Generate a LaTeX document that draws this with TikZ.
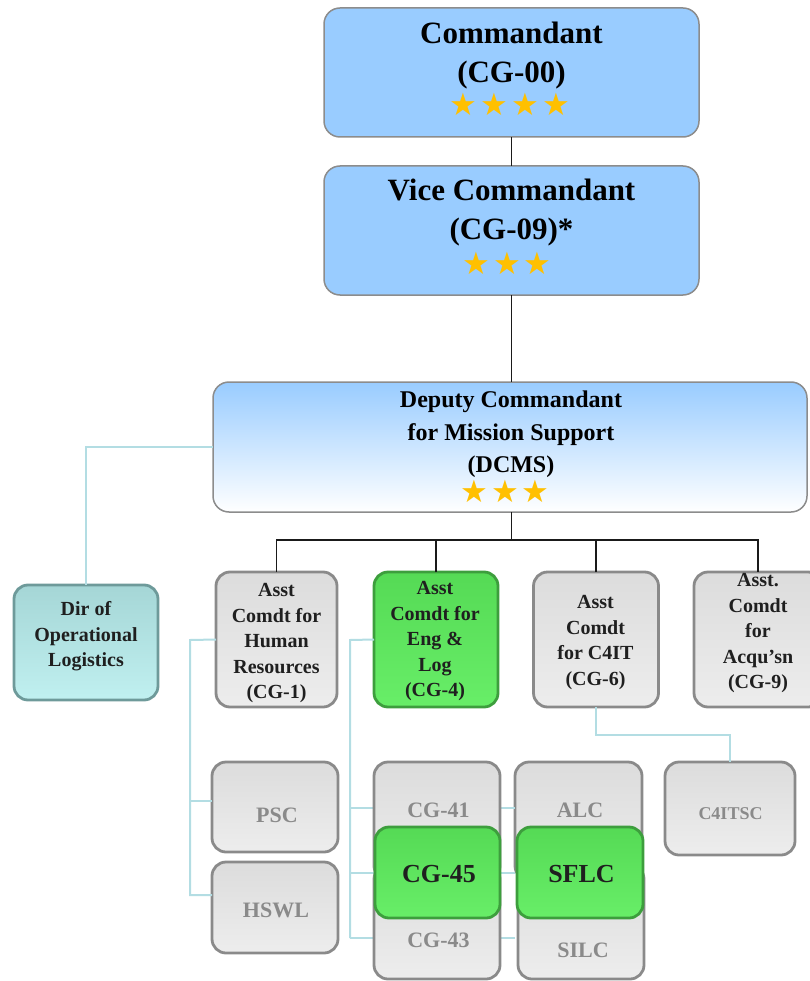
\documentclass[tikz,border=0pt]{standalone}
\usepackage{fontspec}
\setmainfont{Liberation Serif}
\newfontfamily\starfont{DejaVu Sans}
\usetikzlibrary{calc}
\definecolor{topblue}{HTML}{99CCFF}
\definecolor{boxedge}{HTML}{8C8C8C}
\definecolor{gold}{HTML}{FFC000}
\definecolor{grayA}{HTML}{DCDCDC}
\definecolor{grayB}{HTML}{EDEDED}
\definecolor{grayedge}{HTML}{8A8A8A}
\definecolor{grayTxt}{HTML}{8A8A8A}
\definecolor{greenA}{HTML}{55DA55}
\definecolor{greenB}{HTML}{68EE68}
\definecolor{greenedge}{HTML}{3D9E3D}
\definecolor{tealA}{HTML}{A5D6D6}
\definecolor{tealB}{HTML}{C0F0F0}
\definecolor{tealedge}{HTML}{6E9A9A}
\definecolor{sideblue}{HTML}{B3DDE3}
\definecolor{orgdark}{HTML}{1A1A1A}
\begin{document}
\begin{tikzpicture}[x=1pt,y=-1pt,
  boxbase/.style={inner sep=0pt, outer sep=0pt, rectangle},
  topbox/.style={boxbase, draw=boxedge, line width=1.5pt, rounded corners=16pt, fill=topblue},
  dcmsbox/.style={boxbase, draw=boxedge, line width=1.5pt, rounded corners=16pt, top color=topblue, bottom color=white},
  graybox/.style={boxbase, draw=grayedge, line width=2.8pt, rounded corners=14pt, top color=grayA, bottom color=grayB},
  greenbox/.style={boxbase, draw=greenedge, line width=2.8pt, rounded corners=14pt, top color=greenA, bottom color=greenB},
  tealbox/.style={boxbase, draw=tealedge, line width=2.8pt, rounded corners=14pt, top color=tealA, bottom color=tealB},
  orgline/.style={draw=orgdark, line width=1.6pt},
  sideline/.style={draw=sideblue, line width=2pt},
  bigtxt/.style={inner sep=0pt, align=center, anchor=north, font=\fontsize{31}{39}\selectfont\bfseries},
  midtxt/.style={inner sep=0pt, align=center, anchor=north, font=\fontsize{24}{32.5}\selectfont\bfseries},
  smalltxt/.style={inner sep=0pt, align=center, anchor=north, text=black!88, font=\fontsize{20}{25.5}\selectfont\bfseries},
  subtxt/.style={inner sep=0pt, anchor=base, text=grayTxt, font=\fontsize{22}{26}\selectfont\bfseries},
  hotxt/.style={inner sep=0pt, anchor=base, text=black!88, font=\fontsize{26}{30}\selectfont\bfseries},
  startxt/.style={inner sep=0pt, text=gold, font=\starfont\fontsize{31}{31}\selectfont}
]
\useasboundingbox (0,0) rectangle (809,981);

% ---------- helper coordinates ----------
\coordinate (hrx) at (190,640);
\coordinate (engx) at (350,640);
\coordinate (e1) at (350,808);
\coordinate (e2) at (350,873);
\coordinate (e3) at (350,938);
\coordinate (bar) at (512,540);

% ---------- top boxes ----------
\node[topbox, minimum width=375, minimum height=129] (cmd) at (511.5,72.5) {};
\node[topbox, minimum width=375, minimum height=129] (vice) at (511.5,230.5) {};
\node[dcmsbox, minimum width=594, minimum height=130] (dcms) at (510,447) {};

% ---------- second row ----------
\node[tealbox, minimum width=144, minimum height=115] (dir) at (86,642.5) {};
\node[graybox, minimum width=121, minimum height=135] (hr) at (276.5,639.5) {};
\node[greenbox, minimum width=124, minimum height=135] (eng) at (436,639.5) {};
\node[graybox, minimum width=125, minimum height=135] (c4it) at (596,639.5) {};
\node[graybox, minimum width=128, minimum height=135] (acq) at (758,639.5) {};

% connectors
\draw[orgline] (cmd.south) -- (vice.north);
\draw[orgline] (vice.south) -- (vice.south |- dcms.north);
\draw[orgline] (vice.south |- dcms.south) -- (vice.south |- bar);
\draw[orgline] (hr.north) |- (bar) -| (acq.north);
\draw[orgline] (eng.north) -- (eng.north |- bar);
\draw[orgline] (c4it.north) -- (c4it.north |- bar);

\draw[sideline] (dir.north) |- (dcms.west);

% ---------- third row ----------
\node[graybox, minimum width=126, minimum height=90] (psc) at (275,807) {};
\node[graybox, minimum width=126, minimum height=91] (hswl) at (275,907.5) {};
\node[graybox, minimum width=130, minimum height=93] (c4itsc) at (730,808.5) {};

\draw[sideline] (hr.west) -- (hrx) |- ([yshift=12.5pt]hswl.west);
\draw[sideline] (hrx |- 0,801) -- ([yshift=6pt]psc.west);
\draw[sideline] (c4it.south) -- ++(0,28) -| (c4itsc.north);

\node[graybox, minimum width=127, minimum height=118] (alc) at (578.5,821) {};
\node[graybox, minimum width=126, minimum height=114] (silc) at (581,922) {};
\node[greenbox, minimum width=126, minimum height=91] (sflc) at (580,872.5) {};

\draw[sideline] (eng.west) -- (engx) -- (e3);
\draw[sideline] (e1) -- (e1 -| alc.west);
\draw[sideline] (e2) -- (e2 -| alc.west);
\draw[sideline] (e3) -- (e3 -| alc.west);

\node[graybox, minimum width=126, minimum height=118] (cg41) at (437,821) {};
\node[graybox, minimum width=126, minimum height=114] (cg43) at (437,922) {};
\node[greenbox, minimum width=125, minimum height=91] (cg45) at (437.5,872.5) {};

% ---------- texts ----------
\node[bigtxt] (cmdT) at (511.5,22) {Commandant\\(CG-00)};
\node[startxt] (cmdS) at (510,104) {★\hspace{3pt}★\hspace{3pt}★\hspace{3pt}★};
\node[bigtxt] (viceT) at (511.5,179) {Vice Commandant\\(CG-09)*};
\node[startxt] (viceS) at (507,263) {★\hspace{3pt}★\hspace{3pt}★};
\node[midtxt] (dcmsT) at (511,391) {Deputy Commandant\\for Mission Support\\(DCMS)};
\node[startxt] (dcmsS) at (505,491) {★\hspace{3pt}★\hspace{3pt}★};

\node[smalltxt] (dirT) at (86,601.4) {Dir of\\Operational\\Logistics};
\node[smalltxt] (hrT) at (276.5,583.4) {Asst\\Comdt for\\Human\\Resources\\(CG-1)};
\node[smalltxt] (engT) at (435,581.4) {Asst\\Comdt for\\Eng \&\\Log\\(CG-4)};
\node[smalltxt] (c4itT) at (595.5,595.4) {Asst\\Comdt\\for C4IT\\(CG-6)};
\node[smalltxt] (acqT) at (758,573.4) {Asst.\\Comdt\\for\\Acqu’sn\\(CG-9)};

\node[subtxt] (pscT) at (277,822) {PSC};
\node[subtxt] (hswlT) at (276,917) {HSWL};
\node[subtxt] (cg41T) at (438.5,817) {CG-41};
\node[hotxt] (cg45T) at (439,882) {CG-45};
\node[subtxt] (cg43T) at (438.5,947) {CG-43};
\node[subtxt] (alcT) at (580,817) {ALC};
\node[hotxt] (sflcT) at (581.5,882) {SFLC};
\node[subtxt] (silcT) at (583,957) {SILC};
\node[subtxt, font=\fontsize{18}{22}\selectfont\bfseries] (c4itscT) at (730.5,819) {C4ITSC};
\end{tikzpicture}
\end{document}
